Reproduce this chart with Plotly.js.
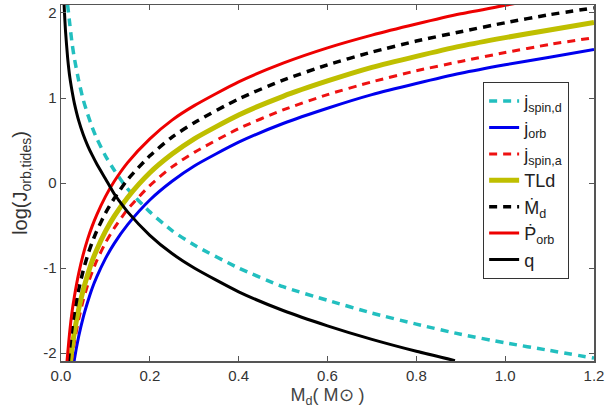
<!DOCTYPE html>
<html>
<head>
<meta charset="utf-8">
<script src="https://cdn.plot.ly/plotly-3.0.1.min.js"></script>
<style>html,body{margin:0;padding:0;background:#fff}#chart{width:607px;height:414px}</style>
</head>
<body>
<div id="chart"></div>
<script>
// j_spin,d (cyan dashed)
const spinDX = [0.0148, 0.02, 0.025, 0.03, 0.04, 0.05, 0.06, 0.07, 0.08, 0.1, 0.12, 0.15, 0.2, 0.25, 0.3, 0.4, 0.5, 0.6, 0.7, 0.8, 0.9, 1.0, 1.1, 1.2];
const spinDY = [2.1, 1.86, 1.64, 1.47, 1.2, 0.98, 0.81, 0.66, 0.53, 0.32, 0.15, -0.07, -0.34, -0.56, -0.73, -1.0, -1.22, -1.38, -1.53, -1.66, -1.78, -1.88, -1.97, -2.06];
// j_orb (blue)
const orbX = [0.0295, 0.03, 0.04, 0.05, 0.06, 0.07, 0.08, 0.1, 0.12, 0.15, 0.2, 0.25, 0.3, 0.4, 0.5, 0.6, 0.7, 0.8, 0.9, 1.0, 1.1, 1.2];
const orbY = [-2.1, -2.08, -1.8, -1.58, -1.4, -1.24, -1.11, -0.89, -0.71, -0.49, -0.2, 0.02, 0.2, 0.48, 0.7, 0.88, 1.04, 1.17, 1.29, 1.39, 1.48, 1.57];
// j_spin,a (red dashed)
const spinAX = [0.0238, 0.025, 0.03, 0.04, 0.05, 0.06, 0.07, 0.08, 0.1, 0.12, 0.15, 0.2, 0.25, 0.3, 0.4, 0.5, 0.6, 0.7, 0.8, 0.9, 1.0, 1.1, 1.2];
const spinAY = [-2.1, -2.05, -1.88, -1.6, -1.38, -1.2, -1.05, -0.92, -0.705, -0.53, -0.31, -0.03, 0.19, 0.36, 0.64, 0.86, 1.04, 1.19, 1.32, 1.43, 1.535, 1.63, 1.71];
// TLd (olive)
const tldX = [0.0213, 0.025, 0.03, 0.04, 0.05, 0.06, 0.07, 0.08, 0.1, 0.12, 0.15, 0.2, 0.25, 0.3, 0.4, 0.5, 0.6, 0.7, 0.8, 0.9, 1.0, 1.1, 1.2];
const tldY = [-2.1, -1.94, -1.76, -1.48, -1.26, -1.08, -0.92, -0.79, -0.57, -0.39, -0.17, 0.12, 0.34, 0.52, 0.8, 1.02, 1.2, 1.36, 1.49, 1.61, 1.71, 1.8, 1.89];
// M_d dot (black dashed)
const mdX = [0.0166, 0.02, 0.025, 0.03, 0.04, 0.05, 0.06, 0.07, 0.08, 0.1, 0.12, 0.15, 0.2, 0.25, 0.3, 0.4, 0.5, 0.6, 0.7, 0.8, 0.9, 1.0, 1.1, 1.2];
const mdY = [-2.1, -1.92, -1.7, -1.53, -1.25, -1.03, -0.85, -0.7, -0.57, -0.355, -0.18, 0.04, 0.32, 0.54, 0.71, 0.99, 1.21, 1.39, 1.54, 1.67, 1.78, 1.885, 1.98, 2.06];
// P_orb dot (red solid)
const porbX = [0.0135, 0.015, 0.02, 0.025, 0.03, 0.04, 0.05, 0.06, 0.07, 0.08, 0.1, 0.12, 0.15, 0.2, 0.25, 0.3, 0.4, 0.5, 0.6, 0.7, 0.8, 0.9, 1.0, 1.05];
const porbY = [-2.1, -2.01, -1.73, -1.51, -1.34, -1.06, -0.84, -0.66, -0.51, -0.38, -0.16, 0.02, 0.24, 0.52, 0.74, 0.91, 1.19, 1.41, 1.59, 1.74, 1.87, 1.99, 2.09, 2.14];
// q (black solid)
const qX = [0.007, 0.0075, 0.01, 0.015, 0.02, 0.027, 0.03, 0.04, 0.05, 0.06, 0.07, 0.08, 0.1, 0.12, 0.131, 0.15, 0.2, 0.25, 0.3, 0.4, 0.5, 0.6, 0.7, 0.8, 0.887];
const qY = [2.1, 2.04, 1.8, 1.47, 1.24, 1.02, 0.94, 0.73, 0.57, 0.44, 0.33, 0.23, 0.05, -0.13, -0.21, -0.34, -0.615, -0.83, -1.0, -1.28, -1.5, -1.68, -1.84, -1.98, -2.09];

const names = ['j<sub>spin,d</sub>', 'j<sub>orb</sub>', 'j<sub>spin,a</sub>', 'TLd', '\u1E40<sub>d</sub>', '\u1E56<sub>orb</sub>', 'q'];
const xTickVals = [0, 0.2, 0.4, 0.6, 0.8, 1.0, 1.2];
const yTickVals = [-2, -1, 0, 1, 2];
const yTickText = ['-2', '-1', '0', '1', '2'];

function tr(x, y, name, color, width, dash) {
  return {x: x, y: y, name: name, mode: 'lines', type: 'scatter', cliponaxis: true,
    line: {color: color, width: width, dash: dash, shape: 'spline', smoothing: 0.6}};
}
const data = [
  tr(spinDX, spinDY, names[0], '#22bfbf', 3.5, '8px,6px'),
  tr(orbX, orbY, names[1], '#0000ee', 3, 'solid'),
  tr(spinAX, spinAY, names[2], '#ee1111', 3, '8px,6px'),
  tr(tldX, tldY, names[3], '#bfbf00', 5, 'solid'),
  tr(mdX, mdY, names[4], '#000000', 3.5, '8px,6px'),
  tr(porbX, porbY, names[5], '#ee0000', 3, 'solid'),
  tr(qX, qY, names[6], '#000000', 3, 'solid')
];
const font = {family: 'Liberation Sans, Arial, sans-serif', color: '#333', size: 15};
const layout = {
  width: 607, height: 414,
  margin: {l: 61, r: 13, t: 5, b: 53},
  paper_bgcolor: '#fff', plot_bgcolor: '#fff',
  font: font,
  showlegend: true,
  legend: {x: 0.792, y: 0.784, xanchor: 'left', yanchor: 'top',
    bgcolor: '#fff', bordercolor: '#333', borderwidth: 1,
    font: {family: 'Liberation Sans, Arial, sans-serif', size: 18, color: '#222'},
    tracegroupgap: 0, itemwidth: 30},
  xaxis: {range: [0, 1.2], tickvals: xTickVals, tickformat: '.1f',
    ticks: 'inside', ticklen: 5, tickcolor: '#555', mirror: 'ticks', showline: true, linecolor: '#555', linewidth: 1.5,
    showgrid: false, zeroline: false, tickfont: {size: 15, color: '#333'},
    title: {text: 'M<sub>d</sub>( M\u2299 )', font: {size: 18, color: '#444'}, standoff: 6}},
  yaxis: {range: [-2.094, 2.094], tickvals: yTickVals, ticktext: yTickText,
    ticks: 'inside', ticklen: 5, tickcolor: '#555', mirror: 'ticks', showline: true, linecolor: '#555', linewidth: 1.5,
    showgrid: false, zeroline: false, tickfont: {size: 15, color: '#333'},
    title: {text: 'log(J<sub>orb,tides</sub>)', font: {size: 20, color: '#333'}, standoff: 10}}
};
Plotly.newPlot('chart', data, layout, {displayModeBar: false, staticPlot: true});
</script>
</body>
</html>
